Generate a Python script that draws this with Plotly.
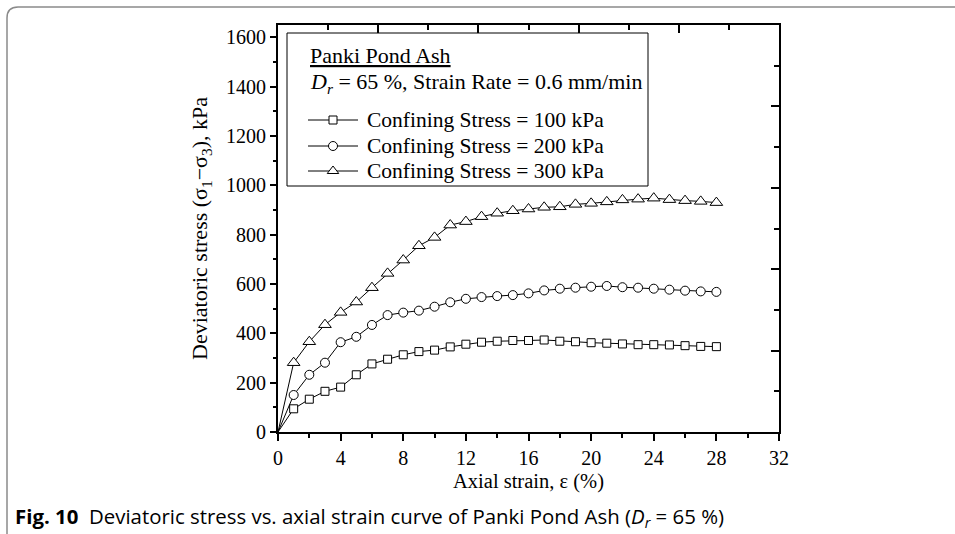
import plotly.graph_objects as go

# Axial strain (%) at each reading; the curves start from the origin
strain = [0, 1, 2, 3, 4, 5, 6, 7, 8, 9, 10, 11, 12, 13, 14, 15, 16, 17, 18, 19,
          20, 21, 22, 23, 24, 25, 26, 27, 28]

# Deviatoric stress (kPa) for each confining stress
stress_100 = [0, 94, 133, 165, 182, 232, 276, 295, 313, 326, 332, 345, 356, 364, 368,
              371, 371, 373, 368, 366, 362, 360, 357, 354, 354, 353, 350, 347, 346]
stress_200 = [0, 150, 232, 281, 364, 386, 434, 474, 484, 492, 508, 526, 540, 547, 551,
              555, 562, 574, 581, 585, 589, 592, 587, 585, 581, 577, 573, 570, 568]
stress_300 = [0, 281, 366, 435, 485, 527, 585, 643, 697, 755, 789, 839, 853, 873, 887,
              897, 904, 911, 913, 923, 927, 933, 941, 944, 948, 942, 938, 935, 930]

series_names = ["Confining Stress = 100 kPa",
                "Confining Stress = 200 kPa",
                "Confining Stress = 300 kPa"]
series_symbols = ["square", "circle", "triangle-up"]
series_sizes = [8, 9, 11]

x_ticks = [0, 4, 8, 12, 16, 20, 24, 28, 32]
y_ticks = [0, 200, 400, 600, 800, 1000, 1200, 1400, 1600]

SERIF = "Liberation Serif"
W, H = 955, 534
ML, MR, MT, MB = 278, 176, 25, 102
PW, PH = W - ML - MR, H - MT - MB


def px(x):
    """pixel column -> paper x"""
    return (x - ML) / PW


def py(y):
    """pixel row -> paper y"""
    return (MT + PH - y) / PH


fig = go.Figure()

for name, ys, sym, size in zip(series_names, [stress_100, stress_200, stress_300],
                               series_symbols, series_sizes):
    fig.add_trace(go.Scatter(
        x=strain, y=ys, name=name, mode="lines+markers", showlegend=False,
        line=dict(color="black", width=1),
        marker=dict(symbol=sym, size=size, color="white",
                    line=dict(color="black", width=1),
                    opacity=[0] + [1] * (len(strain) - 1)),
    ))

# empty trace registering the top/right frame axes
fig.add_trace(go.Scatter(x=[], y=[], xaxis="x2", yaxis="y2", showlegend=False,
                         hoverinfo="skip"))

axis_common = dict(showgrid=False, zeroline=False, showline=True, linecolor="black",
                   linewidth=2, tickcolor="black", tickwidth=1.5,
                   tickfont=dict(family=SERIF, size=20, color="black"))

fig.update_layout(
    width=W, height=H,
    margin=dict(l=ML, r=MR, t=MT, b=MB),
    paper_bgcolor="white", plot_bgcolor="white",
    font=dict(family=SERIF, size=20, color="black"),
    showlegend=False,
    xaxis=dict(range=[0, 32], tickvals=x_ticks, ticks="outside", ticklen=7,
               minor=dict(dtick=2, ticks="outside", ticklen=4, tickcolor="black",
                          tickwidth=1.5),
               title=dict(text="Axial strain, ε (%)", standoff=6,
                          font=dict(family=SERIF, size=20.5)),
               **axis_common),
    yaxis=dict(range=[0, 1650], tickvals=y_ticks, ticks="outside", ticklen=6,
               minor=dict(dtick=100, ticks="outside", ticklen=3, tickcolor="black",
                          tickwidth=1.5),
               title=dict(text="Deviatoric stress (σ<sub>1</sub>−σ<sub>3</sub>), kPa",
                          standoff=12, font=dict(family=SERIF, size=22)),
               **axis_common),
    xaxis2=dict(overlaying="x", side="top", anchor="y", range=[0, 10], dtick=2,
                ticks="inside", ticklen=8, showticklabels=False,
                minor=dict(dtick=1, ticks="inside", ticklen=5, tickcolor="black",
                           tickwidth=1.5),
                **axis_common),
    yaxis2=dict(overlaying="y", side="right", anchor="x", range=[0, 10], dtick=2,
                ticks="inside", ticklen=8, showticklabels=False,
                minor=dict(dtick=1, ticks="inside", ticklen=5, tickcolor="black",
                           tickwidth=1.5),
                **axis_common),
)

# ---- legend panel -------------------------------------------------------
BOX_L, BOX_T, BOX_R, BOX_B = 287, 33, 648, 186
TEXT_L = 308
KEY_L, KEY_R, KEY_C = 308, 358, 333
ENTRY_L = 365
title_rows = [55, 83]
entry_rows = [120, 146, 171]

fig.add_shape(type="rect", xref="paper", yref="paper",
              x0=px(BOX_L), x1=px(BOX_R), y0=py(BOX_B), y1=py(BOX_T),
              line=dict(color="black", width=1), fillcolor="white", layer="above")

title_lines = ["<u>Panki Pond Ash</u>",
               "<i>D</i><sub><i>r</i></sub> = 65 %, Strain Rate = 0.6 mm/min"]
for text, row in zip(title_lines, title_rows):
    fig.add_annotation(xref="paper", yref="paper", x=px(TEXT_L), y=py(row),
                       xanchor="left", yanchor="middle", showarrow=False, text=text,
                       font=dict(family=SERIF, size=22, color="black"))


def key_marker(symbol, cy):
    if symbol == "square":
        h = 4
        return dict(type="rect", x0=px(KEY_C - h), x1=px(KEY_C + h),
                    y0=py(cy + h), y1=py(cy - h))
    if symbol == "circle":
        h = 4.5
        return dict(type="circle", x0=px(KEY_C - h), x1=px(KEY_C + h),
                    y0=py(cy + h), y1=py(cy - h))
    r = 5
    rt = r * 2 / 3 ** 0.5
    return dict(type="path",
                path=f"M {px(KEY_C - rt)},{py(cy + r / 2)} L {px(KEY_C + rt)},{py(cy + r / 2)} "
                     f"L {px(KEY_C)},{py(cy - r)} Z")


for name, sym, row in zip(series_names, series_symbols, entry_rows):
    fig.add_shape(type="line", xref="paper", yref="paper",
                  x0=px(KEY_L), x1=px(KEY_R), y0=py(row), y1=py(row),
                  line=dict(color="black", width=1), layer="above")
    fig.add_shape(xref="paper", yref="paper", line=dict(color="black", width=1),
                  fillcolor="white", layer="above", **key_marker(sym, row))
    fig.add_annotation(xref="paper", yref="paper", x=px(ENTRY_L), y=py(row),
                       xanchor="left", yanchor="middle", showarrow=False, text=name,
                       font=dict(family=SERIF, size=21.5, color="black"))

# ---- caption below the chart --------------------------------------------
fig.add_annotation(
    xref="paper", yref="paper", x=px(13), y=py(517), xanchor="left", yanchor="middle",
    showarrow=False,
    text="<b>Fig. 10</b>  Deviatoric stress vs. axial strain curve of Panki Pond Ash "
         "(<i>D</i><sub><i>r</i></sub> = 65 %)",
    font=dict(family="Open Sans", size=20.4, color="black"),
)

# rounded frame around the figure panel
fig.add_shape(
    type="path", xref="paper", yref="paper",
    path=f"M {px(1000)},{py(7)} L {px(18)},{py(7)} Q {px(7)},{py(7)} {px(7)},{py(18)} "
         f"L {px(7)},{py(560)}",
    line=dict(color="#8a8a8a", width=1.5),
)

fig.write_html("out.html")
